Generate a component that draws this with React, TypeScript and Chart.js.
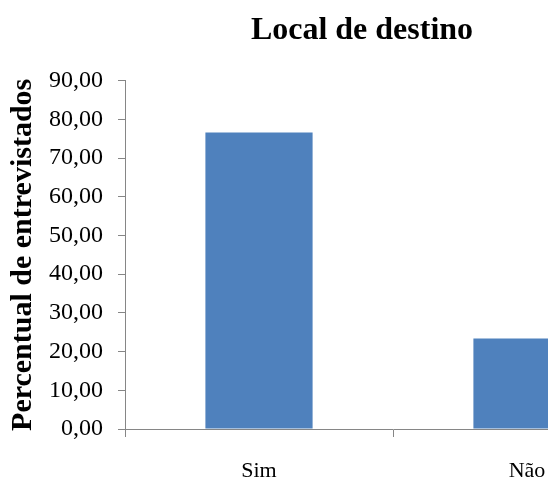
import React, { useEffect, useRef } from "react";
import { Chart, registerables } from "chart.js";

Chart.register(...registerables);

const categories = ["Sim", "Não"];
const values = [76.6, 23.4];
const chartTitle = "Local de destino";
const yAxisTitle = "Percentual de entrevistados";
const yMin = 0;
const yMax = 90;
const yStep = 10;

const SERIF = "'Liberation Serif', 'Times New Roman', serif";
const AXIS_GRAY = "#868686";

export default function App() {
  const ref = useRef<HTMLCanvasElement | null>(null);

  useEffect(() => {
    if (!ref.current) return;
    const chart = new Chart(ref.current, {
      type: "bar",
      data: {
        labels: categories,
        datasets: [
          {
            label: chartTitle,
            data: values,
            backgroundColor: "#4F81BD",
            borderWidth: 0,
            categoryPercentage: 1,
            barPercentage: 0.4,
            yAxisID: "y",
          },
        ],
      },
      options: {
        responsive: false,
        animation: false,
        layout: { padding: 0 },
        plugins: {
          legend: { display: false },
          tooltip: { enabled: false },
          title: {
            display: true,
            text: chartTitle,
            color: "#000",
            font: { family: SERIF, size: 32, weight: "bold" },
            padding: { top: 12, bottom: 30.3 },
          },
        },
        scales: {
          x: {
            grid: {
              display: true,
              drawOnChartArea: false,
              drawTicks: true,
              tickLength: 8,
              color: AXIS_GRAY,
              offset: true,
            },
            border: { display: true, color: AXIS_GRAY, width: 1 },
            ticks: {
              color: "#000",
              font: { family: SERIF, size: 22 },
              padding: 21,
              maxRotation: 0,
            },
            afterFit: (s: any) => {
              s.height = 53;
            },
          },
          y: {
            position: "left",
            min: yMin,
            max: yMax,
            grid: {
              display: true,
              drawOnChartArea: false,
              drawTicks: true,
              tickLength: 7,
              color: AXIS_GRAY,
            },
            border: { display: true, color: AXIS_GRAY, width: 1 },
            ticks: {
              stepSize: yStep,
              color: "#000",
              font: { family: SERIF, size: 24 },
              padding: 15,
              callback: (v: any) => Number(v).toFixed(2).replace(".", ","),
            },
            title: {
              display: true,
              text: yAxisTitle,
              color: "#000",
              font: { family: SERIF, size: 30, weight: "bold" },
              padding: { top: 5.5, bottom: 6 },
            },
            afterFit: (s: any) => {
              s.width = 125;
            },
          },
          spacer: {
            type: "linear",
            position: "right",
            display: true,
            grid: { display: false },
            border: { display: false },
            ticks: { display: false },
            afterFit: (s: any) => {
              s.width = 63;
            },
          },
        },
      },
    } as any);
    return () => chart.destroy();
  }, []);

  return (
    <div
      style={{
        position: "fixed",
        left: 0,
        top: 0,
        width: 548,
        height: 482,
        overflow: "hidden",
        background: "#fff",
      }}
    >
      <canvas ref={ref} width={724} height={482} style={{ display: "block" }} />
    </div>
  );
}
